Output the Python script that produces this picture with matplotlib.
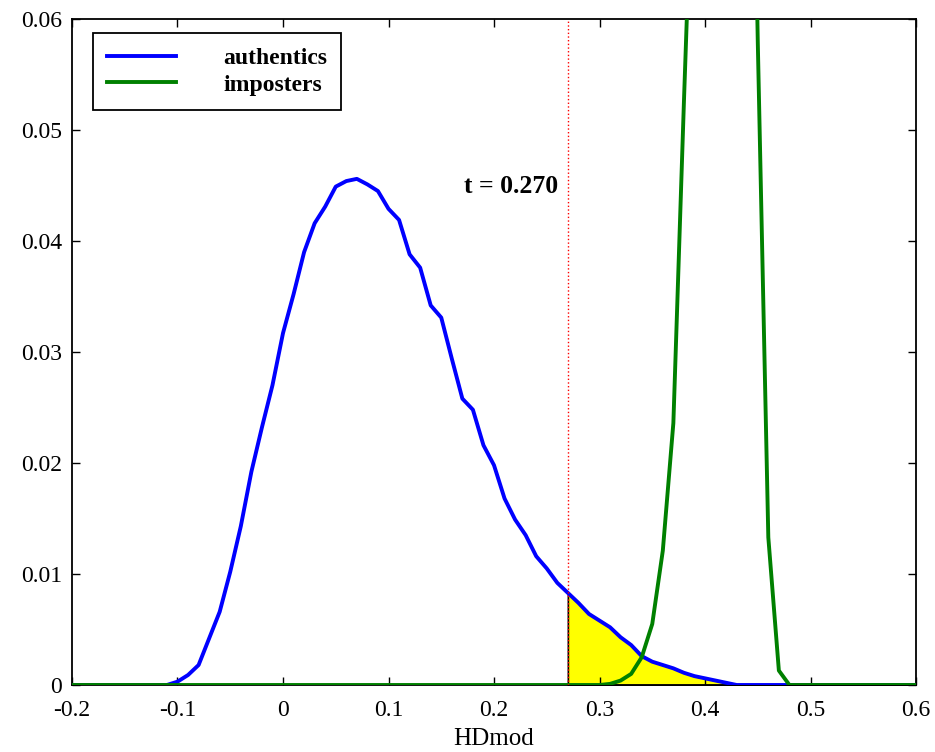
import matplotlib
matplotlib.use('Agg')
import matplotlib.pyplot as plt
import numpy as np
from matplotlib.ticker import FuncFormatter

# authentic score distribution (HDmod vs density)
auth_x = [-0.20, -0.11, -0.10, -0.09, -0.08, -0.07, -0.06, -0.05, -0.04, -0.03,
          -0.02, -0.01, 0.00, 0.01, 0.02, 0.03, 0.04, 0.05, 0.06, 0.07,
          0.08, 0.09, 0.10, 0.11, 0.12, 0.13, 0.14, 0.15, 0.16, 0.17,
          0.18, 0.19, 0.20, 0.21, 0.22, 0.23, 0.24, 0.25, 0.26, 0.27,
          0.28, 0.29, 0.30, 0.31, 0.32, 0.33, 0.34, 0.35, 0.36, 0.37,
          0.38, 0.39, 0.40, 0.41, 0.42, 0.43, 0.60]
auth_y = [0.0, 0.0, 0.0003, 0.0009, 0.0018, 0.0042, 0.0066, 0.0102, 0.0143, 0.0192,
          0.0232, 0.0270, 0.0317, 0.0352, 0.0390, 0.0416, 0.0431, 0.0449, 0.0454, 0.0456,
          0.0451, 0.0445, 0.0429, 0.0419, 0.0388, 0.0376, 0.0342, 0.0331, 0.0294, 0.0258,
          0.0248, 0.0216, 0.0198, 0.0168, 0.0149, 0.0135, 0.0116, 0.0105, 0.0092, 0.0083,
          0.0074, 0.0064, 0.0058, 0.0052, 0.0043, 0.0036, 0.0026, 0.0021, 0.0018, 0.0015,
          0.0011, 0.0008, 0.0006, 0.0004, 0.0002, 0.0, 0.0]

# imposter score distribution (peak runs off the top of the plot)
imp_x = [-0.20, 0.30, 0.31, 0.32, 0.33, 0.34, 0.35, 0.36, 0.37, 0.38,
         0.39, 0.40, 0.41, 0.42, 0.43, 0.44, 0.45, 0.46, 0.47, 0.48, 0.60]
imp_y = [0.0, 0.0, 0.0001, 0.0004, 0.0010, 0.0025, 0.0055, 0.0121, 0.0236, 0.0525,
         0.080, 0.120, 0.150, 0.160, 0.150, 0.110, 0.058, 0.0133, 0.0013, 0.0, 0.0]

threshold = 0.270
xticks = [-0.2, -0.1, 0, 0.1, 0.2, 0.3, 0.4, 0.5, 0.6]
yticks = [0, 0.01, 0.02, 0.03, 0.04, 0.05, 0.06]

plt.rcParams['font.family'] = ['Liberation Serif', 'DejaVu Serif']

fig = plt.figure(figsize=(9.35, 7.52), dpi=100)
ax = fig.add_axes([0.0770, 0.0891, 0.9027, 0.8856])

ax_arr = np.array(auth_x)
ay_arr = np.array(auth_y)
ax.fill_between(ax_arr, 0, ay_arr, where=ax_arr >= threshold - 1e-9,
                facecolor='yellow', edgecolor='black', linewidth=1.2, zorder=1)
ax.plot(auth_x, auth_y, color='blue', linewidth=2.8, label='authentics', zorder=3)
ax.plot(imp_x, imp_y, color='green', linewidth=2.8, label='imposters', zorder=4)
ax.axvline(threshold, color='red', linestyle=':', linewidth=1.0, zorder=5)

ax.text(threshold - 0.0095, 0.0449, 't = %.3f' % threshold, fontsize=18.5,
        fontweight='bold', ha='right', va='center')

ax.set_xlim(-0.2, 0.6)
ax.set_ylim(0, 0.06)
ax.set_xticks(xticks)
ax.set_yticks(yticks)
fmt = FuncFormatter(lambda v, p: '%g' % round(v, 3))
ax.xaxis.set_major_formatter(fmt)
ax.yaxis.set_major_formatter(fmt)
ax.tick_params(direction='in', length=5.5, width=1.0, top=True, right=True,
               labelsize=17, colors='black')
ax.tick_params(axis='x', pad=11)
ax.tick_params(axis='y', pad=7)
for s in ax.spines.values():
    s.set_linewidth(1.3)
ax.set_xlabel('HDmod', fontsize=18, labelpad=5)

leg = ax.legend(loc='upper left', bbox_to_anchor=(0.0252, 0.9785),
                borderaxespad=0, fancybox=False, edgecolor='black', framealpha=1,
                prop={'weight': 'bold', 'size': 17}, handlelength=2.9,
                handletextpad=2.0, labelspacing=0.22, borderpad=0.6)
leg.get_frame().set_linewidth(1.3)

fig.savefig('out.png', dpi=100)
